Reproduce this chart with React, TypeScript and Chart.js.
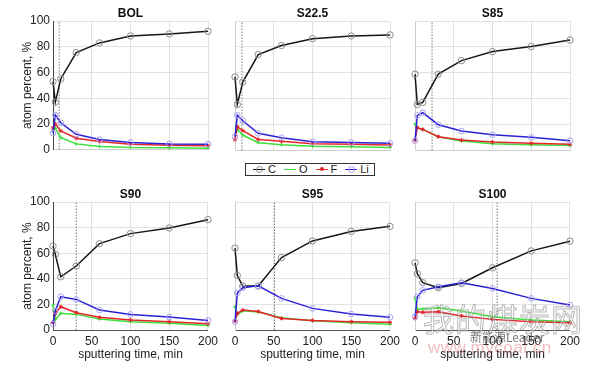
import React, { useEffect, useRef } from 'react';
import { Chart, registerables } from 'chart.js';

Chart.register(...registerables);

// ---------- data ----------
const timeMin = [0, 3, 10, 30, 60, 100, 150, 200];
const xTicks = [0, 50, 100, 150, 200];
const yTicks = [0, 20, 40, 60, 80, 100];
const sampleNames = ['BOL', 'S22.5', 'S85', 'S90', 'S95', 'S100'];
const cutoffTimes = [8, 9, 22, 30, 51, 106];
const elementNames = ['C', 'O', 'F', 'Li'];

const bolC = [53, 37, 55, 75.5, 83, 88.4, 90, 92];
const bolO = [15, 16.8, 9.5, 4.6, 2.6, 1.8, 1.5, 1.3];
const bolF = [17, 20, 14.7, 9, 6.4, 4.4, 3.6, 3.1];
const bolLi = [13, 27, 21, 12, 8, 5.7, 4.6, 4.4];

const s22C = [56.7, 35.3, 52.6, 74, 81, 86.3, 88.4, 89.2];
const s22O = [12, 16, 11.6, 5.7, 4, 3, 2.6, 2];
const s22F = [8, 18, 15, 8.2, 6.7, 4.9, 4.4, 3.9];
const s22Li = [10.3, 27, 22.7, 12.9, 9.5, 6.4, 5.9, 5.2];

const s85C = [58.8, 35.3, 36.9, 58.8, 69.3, 76.3, 80.2, 85.3];
const s85O = [20, 17, 16, 10.3, 7, 4.9, 4.1, 3.4];
const s85F = [7.7, 17.3, 16, 10.3, 7.7, 6.2, 5.2, 4.4];
const s85Li = [7.2, 26.8, 28.9, 19.6, 14.7, 11.9, 9.8, 7.2];

const s90C = [65.5, 59, 41.6, 50, 67.5, 75.3, 79.7, 86.2];
const s90O = [19.5, 8, 13, 12.2, 8.6, 6.5, 5.2, 3.6];
const s90F = [6, 13, 18.2, 13.5, 9.9, 7.8, 6.5, 4.9];
const s90Li = [4.7, 15, 26, 23.9, 15.6, 12.2, 10.1, 7.5];

const s95C = [64, 42.6, 34.3, 34.3, 56.6, 69.6, 77, 81];
const s95O = [18, 12, 15, 14, 9.6, 7.3, 5.7, 4.4];
const s95F = [7, 13, 15.6, 14.5, 9, 7.5, 6.5, 6];
const s95Li = [6.5, 29, 33, 34.5, 24.7, 16.9, 12.5, 9.9];

const s100C = [52.5, 44, 37, 33, 36.4, 48.6, 61.8, 69.4];
const s100O = [25, 16, 16.4, 17.4, 14.8, 10.4, 7.8, 6.5];
const s100F = [9, 14.3, 13.8, 14.3, 11, 8.3, 6.5, 5.7];
const s100Li = [10.4, 26, 31, 33.8, 37, 32.5, 24.7, 19.5];

const sampleSeries = [
  [bolC, bolO, bolF, bolLi],
  [s22C, s22O, s22F, s22Li],
  [s85C, s85O, s85F, s85Li],
  [s90C, s90O, s90F, s90Li],
  [s95C, s95O, s95F, s95Li],
  [s100C, s100O, s100F, s100Li],
];

// ---------- styles ----------
const FONT = '"Liberation Sans", Arial, Helvetica, sans-serif';
const lineColors = ['#161616', '#3ee03e', '#e3262b', '#2b20d6'];
const markerColors = ['#8c8c8c', '#3ee03e', '#e3262b', '#a99ff2'];
const markerStyles = ['circle', 'cross', 'star', 'circle'];
const markerRadius = [3.2, 1.8, 2, 2.8];
const drawOrder = [3, 2, 1, 0];

const colLeft = [53, 235, 415];
const rowTop = [21, 202];
const plotW = 155;
const plotH = [129, 128];

const titlePlugin = {
  id: 'panelTitle',
  afterDraw(chart: any, _args: any, opts: any) {
    const { ctx, chartArea } = chart;
    ctx.save();
    ctx.font = `bold 12px ${FONT}`;
    ctx.fillStyle = '#111';
    ctx.textAlign = 'center';
    ctx.textBaseline = 'middle';
    ctx.fillText(opts.text, (chartArea.left + chartArea.right) / 2, chartArea.top - 7);
    ctx.restore();
  },
};

function Panel({ idx }: { idx: number }) {
  const ref = useRef<HTMLCanvasElement | null>(null);
  const col = idx % 3;
  const row = Math.floor(idx / 3);
  const lm = col === 0 ? 53 : 12;
  const tm = 21;
  const rm = 14;
  const bm = row === 1 ? 32 : 10;
  const w = lm + plotW + rm;
  const h = tm + plotH[row] + bm;
  const left = colLeft[col] - lm;
  const top = rowTop[row] - tm;

  useEffect(() => {
    if (!ref.current) return;
    const series = sampleSeries[idx];
    const datasets: any[] = series.map((vals, k) => ({
      label: elementNames[k],
      data: vals.map((v, i) => ({ x: timeMin[i], y: v })),
      borderColor: lineColors[k],
      borderWidth: 1.5,
      pointStyle: markerStyles[k],
      pointRadius: markerRadius[k],
      pointBorderColor: markerColors[k],
      pointBackgroundColor: 'rgba(0,0,0,0)',
      pointBorderWidth: 1,
      tension: 0,
      fill: false,
      clip: false,
      order: drawOrder[k],
    }));
    datasets.push({
      label: 'cutoff',
      data: [
        { x: cutoffTimes[idx], y: 0 },
        { x: cutoffTimes[idx], y: 100 },
      ],
      borderColor: '#7a7a7a',
      borderWidth: 1,
      borderDash: [1.5, 1.5],
      pointRadius: 0,
      order: 10,
    });

    const leftBorder = col === 0 ? '#444' : '#cfcfcf';
    const bottomBorder = row === 1 ? '#555' : '#cfcfcf';

    const chart = new Chart(ref.current, {
      type: 'line',
      data: { datasets },
      plugins: [titlePlugin],
      options: {
        animation: false,
        responsive: false,
        maintainAspectRatio: false,
        layout: { padding: { top: tm, right: rm, left: 0, bottom: 0 } },
        plugins: {
          legend: { display: false },
          tooltip: { enabled: false },
          panelTitle: { text: sampleNames[idx] },
        } as any,
        scales: {
          x: {
            type: 'linear',
            min: 0,
            max: 200,
            afterBuildTicks: (s: any) => {
              s.ticks = xTicks.map((v) => ({ value: v }));
            },
            afterFit: (s: any) => {
              s.height = bm;
            },
            grid: { color: '#e2e2e2', drawTicks: false, lineWidth: 1 },
            border: { color: bottomBorder, width: 1 },
            ticks: {
              display: row === 1,
              padding: 4,
              color: '#222',
              font: { family: FONT, size: 12 },
              maxRotation: 0,
            },
            title: {
              display: row === 1,
              text: 'sputtering time, min',
              color: '#222',
              font: { family: FONT, size: 12 },
              padding: { top: 0, bottom: 0 },
            },
          },
          y: {
            type: 'linear',
            min: 0,
            max: 100,
            afterBuildTicks: (s: any) => {
              s.ticks = yTicks.map((v) => ({ value: v }));
            },
            afterFit: (s: any) => {
              s.width = lm;
            },
            grid: { color: '#e2e2e2', drawTicks: false, lineWidth: 1 },
            border: { color: leftBorder, width: 1 },
            ticks: {
              display: col === 0,
              padding: 3,
              color: '#222',
              font: { family: FONT, size: 12 },
            },
            title: {
              display: col === 0,
              text: 'atom percent, %',
              color: '#222',
              font: { family: FONT, size: 12 },
              padding: { top: 20, bottom: 0 },
            },
          },
        },
      } as any,
    });
    return () => chart.destroy();
  }, [idx]);

  return (
    <canvas
      ref={ref}
      width={w}
      height={h}
      style={{ position: 'absolute', left, top, width: w, height: h }}
    />
  );
}

function LegendItem({ k }: { k: number }) {
  const marker =
    k === 0 || k === 3 ? (
      <span
        style={{
          position: 'absolute',
          left: 3,
          top: -4,
          width: 5,
          height: 5,
          borderRadius: '50%',
          border: `1px solid ${markerColors[k]}`,
        }}
      />
    ) : k === 2 ? (
      <span
        style={{
          position: 'absolute',
          left: 4,
          top: -3,
          width: 4,
          height: 4,
          background: markerColors[k],
          borderRadius: '50%',
        }}
      />
    ) : null;
  return (
    <span style={{ display: 'inline-flex', alignItems: 'center', marginRight: k === 3 ? 0 : 8 }}>
      <span
        style={{
          position: 'relative',
          width: 12,
          height: 0,
          borderTop: `1.5px solid ${lineColors[k]}`,
          marginRight: 3,
        }}
      >
        {marker}
      </span>
      <span>{elementNames[k]}</span>
    </span>
  );
}

export default function App() {
  return (
    <div
      style={{
        position: 'fixed',
        left: 0,
        top: 0,
        width: 600,
        height: 365,
        background: '#fff',
        overflow: 'hidden',
        fontFamily: FONT,
      }}
    >
      {sampleNames.map((_, i) => (
        <Panel key={i} idx={i} />
      ))}
      <div
        style={{
          position: 'absolute',
          left: 245,
          top: 163,
          width: 121,
          height: 11,
          border: '1px solid #333',
          fontSize: 11,
          lineHeight: '11px',
          color: '#222',
          display: 'flex',
          alignItems: 'center',
          paddingLeft: 7,
          boxSizing: 'content-box',
          whiteSpace: 'nowrap',
        }}
      >
        {elementNames.map((_, k) => (
          <LegendItem key={k} k={k} />
        ))}
      </div>
      {/* watermark */}
      <div
        style={{
          position: 'absolute',
          left: 423,
          top: 302,
          fontSize: 31,
          lineHeight: '31px',
          color: 'rgba(255,255,255,0.35)',
          WebkitTextStroke: '1px rgba(120,120,120,0.5)',
          fontFamily: '"Noto Sans CJK SC", sans-serif',
          letterSpacing: 1,
          whiteSpace: 'nowrap',
        }}
      >
        我的煤炭网
      </div>
      <div
        style={{
          position: 'absolute',
          left: 470,
          top: 330,
          fontSize: 12,
          lineHeight: '14px',
          color: 'rgba(70,70,70,0.7)',
          fontFamily: '"Noto Sans CJK SC", sans-serif',
          whiteSpace: 'nowrap',
        }}
      >
        新能源Leader
      </div>
      <div
        style={{
          position: 'absolute',
          left: 428,
          top: 339,
          fontSize: 17,
          lineHeight: '18px',
          color: 'rgba(215,90,90,0.4)',
          fontFamily: FONT,
          letterSpacing: 0.5,
          whiteSpace: 'nowrap',
        }}
      >
        www.mycoal.cn
      </div>
    </div>
  );
}
